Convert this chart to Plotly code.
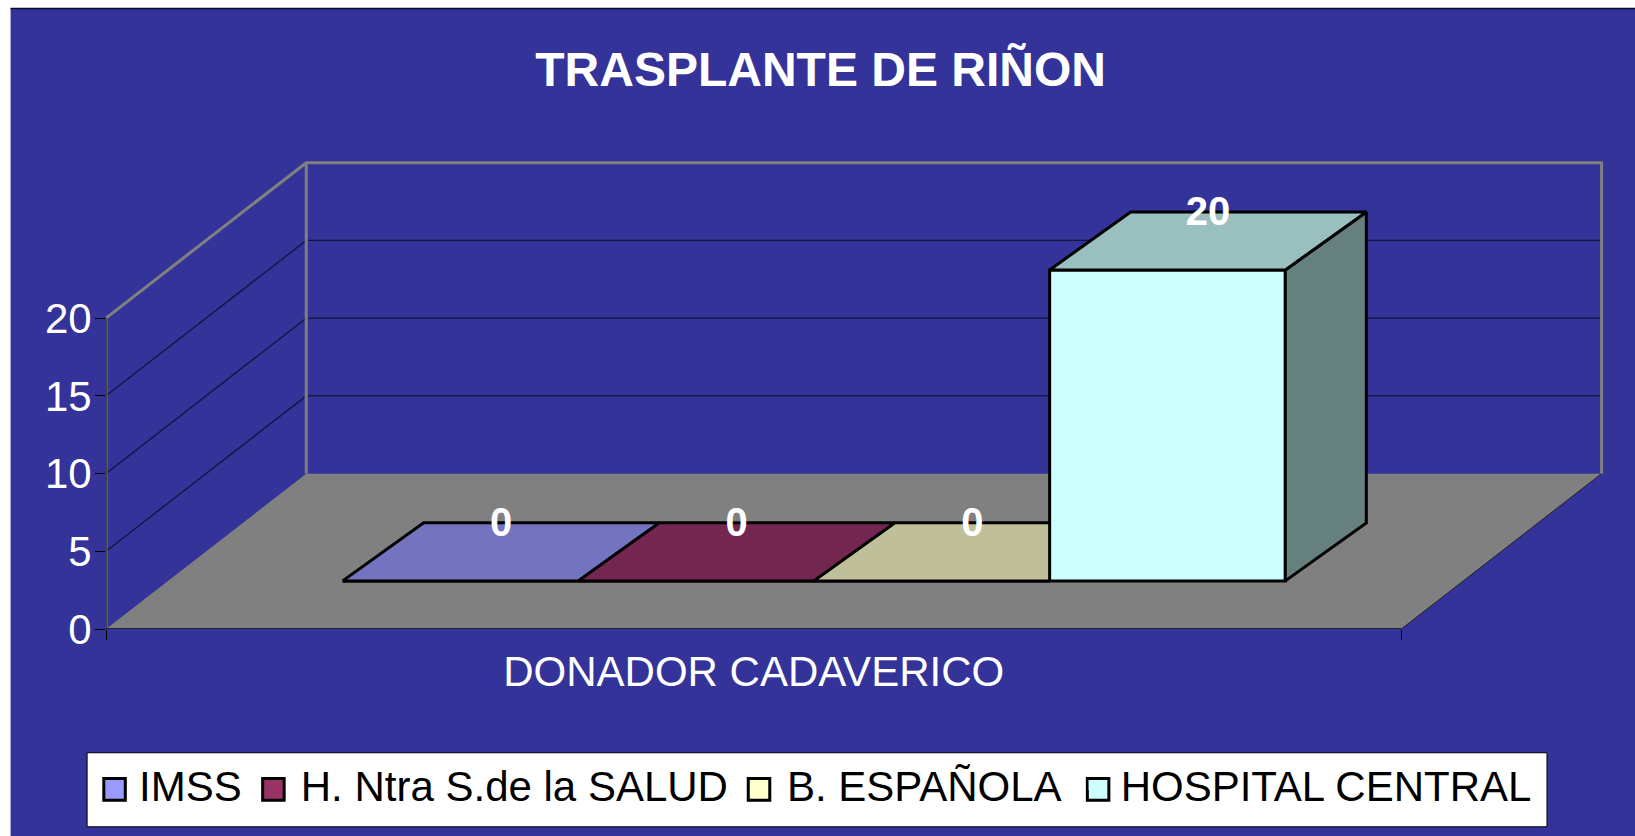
import plotly.graph_objects as go

TITLE = "TRASPLANTE DE RIÑON"
CATEGORY = "DONADOR CADAVERICO"
SERIES = ["IMSS", "H. Ntra S.de la SALUD", "B. ESPAÑOLA", "HOSPITAL CENTRAL"]
VALUES = [0, 0, 0, 20]
FRONT_COLORS = ["#9999FF", "#993366", "#FFFFCC", "#CCFFFF"]
TOP_COLORS = ["#7373BF", "#732650", "#BFBF99", "#99BFBF"]
SIDE_COLORS = ["#4D4D80", "#4D1A33", "#808066", "#668080"]
Y_TICKS = [0, 5, 10, 15, 20]

W, H = 1635, 836
L, R, T, B = 106.4, 1625.0, 150.0, 628.8   # plot area, wider than the axes so the depth fits
FRONT_R, FRONT_T = 1401.4, 318.0           # right end of the front edge, top of the value scale
PX_X = 235.6                               # pixels per category slot
PX_Y = (B - FRONT_T) / 20.0                # pixels per value unit
X_EDGE = (FRONT_R - L) / PX_X
X_MAX = (R - L) / PX_X
Y_MAX = (B - T) / PX_Y
FLOOR_DX, FLOOR_DY = 200.2 / PX_X, 155.3 / PX_Y   # depth of the floor
BAR_X0, BAR_Y0 = 236.6 / PX_X, 48.1 / PX_Y        # first bar's front corner
BAR_DX, BAR_DY = 81.0 / PX_X, 58.0 / PX_Y         # depth of a bar
SWATCH_LEFT = [102.7, 261.5, 747.0, 1086.0]       # legend swatch frames, pixels


def xp(px):
    return (px - L) / (R - L)


def yp(py):
    return (B - py) / (B - T)


fig = go.Figure()


def poly(xs, ys, fill=None, line=None, width=1):
    fig.add_trace(go.Scatter(
        x=xs, y=ys, mode="lines", showlegend=False, hoverinfo="skip",
        fill="toself" if fill else "none",
        fillcolor=fill,
        line=dict(color=line or "rgba(0,0,0,0)", width=width if line else 0),
    ))


# Floor
poly([0, FLOOR_DX, X_EDGE + FLOOR_DX, X_EDGE, 0], [0, FLOOR_DY, FLOOR_DY, 0, 0], fill="#808080")
poly([X_EDGE, X_EDGE + FLOOR_DX], [0, FLOOR_DY], line="#222222", width=1)

# Gridlines on side and back wall
for v in Y_TICKS[1:-1]:
    poly([0, FLOOR_DX, X_EDGE + FLOOR_DX], [v, v + FLOOR_DY, v + FLOOR_DY], line="#14143c", width=1.3)

# Wall outline
top = Y_TICKS[-1]
poly([0, 0], [0, top], line="#808080", width=3)
poly([0, FLOOR_DX, X_EDGE + FLOOR_DX, X_EDGE + FLOOR_DX],
     [top, top + FLOOR_DY, top + FLOOR_DY, FLOOR_DY], line="#808080", width=3)
poly([FLOOR_DX, FLOOR_DX], [FLOOR_DY, top + FLOOR_DY], line="#808080", width=3)

# Axis lines
poly([0, 0], [0, top], line="#000000", width=1)
poly([0, X_EDGE], [0, 0], line="#000000", width=1.5)

# Bars (oblique projection)
for i, v in enumerate(VALUES):
    x0 = BAR_X0 + i
    x1 = x0 + 1
    y0 = BAR_Y0
    y1 = BAR_Y0 + v
    poly([x0, x1, x1, x0, x0], [y0, y0, y1, y1, y0], fill=FRONT_COLORS[i], line="#000000", width=3)
    poly([x1, x1 + BAR_DX, x1 + BAR_DX, x1, x1],
         [y0, y0 + BAR_DY, y1 + BAR_DY, y1, y0], fill=SIDE_COLORS[i], line="#000000", width=3)
    poly([x0, x1, x1 + BAR_DX, x0 + BAR_DX, x0],
         [y1, y1, y1 + BAR_DY, y1 + BAR_DY, y1], fill=TOP_COLORS[i], line="#000000", width=3)

# Data labels
fig.add_trace(go.Scatter(
    x=[BAR_X0 + i + 0.5 + BAR_DX / 2 for i in range(len(VALUES))],
    y=[BAR_Y0 + v + BAR_DY - 3 / PX_Y for v in VALUES],
    mode="text", text=[str(v) for v in VALUES],
    textposition="middle center", cliponaxis=False, showlegend=False, hoverinfo="skip",
    textfont=dict(family="Liberation Sans", size=40, color="#FFFFFF", weight=700),
))

# Legend entries (plotly caps legend markers at 16 px, the larger framed swatch sits behind)
for name, c in zip(SERIES, FRONT_COLORS):
    fig.add_trace(go.Scatter(
        x=[None], y=[None], mode="markers", name=name,
        marker=dict(symbol="square", size=10, color=c, line=dict(width=0)),
    ))

shapes = [
    dict(type="rect", xref="paper", yref="paper", x0=xp(0), x1=xp(11), y0=yp(H), y1=yp(0),
         fillcolor="#FFFFFF", line_width=0, layer="below"),
    dict(type="rect", xref="paper", yref="paper", x0=xp(0), x1=xp(W), y0=yp(8), y1=yp(0),
         fillcolor="#FFFFFF", line_width=0, layer="below"),
    dict(type="line", xref="paper", yref="paper", x0=xp(11), x1=xp(W), y0=yp(8.5), y1=yp(8.5),
         line=dict(color="#0A0A30", width=1.5), layer="below"),
    dict(type="rect", xref="paper", yref="paper", x0=xp(87.5), x1=xp(1547), y0=yp(826.5), y1=yp(752.5),
         fillcolor="#FFFFFF", line=dict(color="#000000", width=1), layer="below"),
]
for left, c in zip(SWATCH_LEFT, FRONT_COLORS):
    shapes.append(dict(type="rect", xref="paper", yref="paper",
                       x0=xp(left + 1.5), x1=xp(left + 23), y0=yp(800), y1=yp(778.2),
                       fillcolor=c, line=dict(color="#000000", width=3), layer="above"))

fig.update_layout(
    width=W, height=H, autosize=False,
    margin=dict(l=L, r=W - R, t=T, b=H - B, pad=0, autoexpand=False),
    paper_bgcolor="#333399", plot_bgcolor="rgba(0,0,0,0)",
    font=dict(family="Liberation Sans", color="#FFFFFF"),
    title=dict(
        text=TITLE, x=820.6 / W, y=1 - 69 / H, xanchor="center", yanchor="middle",
        xref="container", yref="container",
        font=dict(family="Liberation Sans", size=48, color="#FFFFFF", weight=700),
    ),
    xaxis=dict(
        range=[0, X_MAX], tickmode="array", tickvals=[X_EDGE / 2], ticktext=[CATEGORY],
        ticks="outside", ticklen=6, tickcolor="rgba(0,0,0,0)",
        tickfont=dict(family="Liberation Sans", size=42, color="#FFFFFF"),
        showgrid=False, zeroline=False, showline=False,
        minor=dict(tickmode="array", tickvals=[0, X_EDGE], ticks="outside", ticklen=10,
                   tickcolor="#000000", tickwidth=1, showgrid=False),
        automargin=False, fixedrange=True,
    ),
    yaxis=dict(
        range=[0, Y_MAX], tickmode="array", tickvals=Y_TICKS,
        ticks="outside", ticklen=10, tickcolor="#000000", tickwidth=1, ticklabelstandoff=-5,
        tickfont=dict(family="Liberation Sans", size=42, color="#FFFFFF"),
        showgrid=False, zeroline=False, showline=False,
        automargin=False, fixedrange=True,
    ),
    legend=dict(
        orientation="h", x=xp(85.5), y=yp(785), xanchor="left", yanchor="middle",
        bgcolor="rgba(0,0,0,0)", borderwidth=0, itemwidth=44, itemsizing="trace",
        font=dict(family="Liberation Sans", size=42, color="#000000"),
        itemclick=False, itemdoubleclick=False,
    ),
    shapes=shapes,
)

fig.write_html("out.html", config=dict(displayModeBar=False),
               post_script="document.body.style.margin='0';document.body.style.overflow='hidden';")
